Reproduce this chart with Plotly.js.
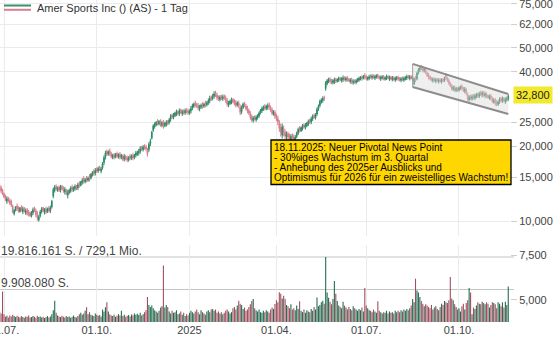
<!DOCTYPE html>
<html>
<head>
<meta charset="utf-8">
<script src="https://cdn.plot.ly/plotly-3.0.1.min.js"></script>
<style>html,body{margin:0;padding:0;background:#fff;}#chart{width:557px;height:340px;}</style>
</head>
<body>
<div id="chart"></div>
<script>
// ---- data (daily, trading days from 2024-06-26 to 2025-11-18) ----
const closes = [
13.6,13.2,12.9,12.5,12.2,12.3,12.0,11.8,11.6,10.9,
11.0,11.4,11.2,11.0,11.3,11.1,11.2,10.9,11.0,10.7,
10.6,10.5,10.8,11.1,11.0,10.6,10.3,10.4,10.9,11.2,
11.0,11.1,10.9,11.2,11.0,11.3,12.0,13.4,13.7,13.5,
13.6,13.3,13.7,13.5,13.2,13.4,12.9,13.0,13.3,13.6,
13.4,13.6,13.8,13.5,14.0,13.9,14.4,14.6,14.5,14.7,
14.6,14.9,14.8,15.4,15.7,15.5,16.0,15.9,16.3,16.1,
16.2,17.0,18.0,18.8,18.6,19.0,18.7,18.2,18.4,18.0,
18.6,18.3,18.5,18.1,18.4,17.7,18.2,17.8,17.6,18.0,
17.9,18.3,18.0,18.4,18.8,18.9,19.1,19.6,19.4,19.9,
19.7,19.5,18.6,20.4,21.0,22.8,24.2,24.6,25.0,24.7,
25.2,24.5,24.9,24.2,24.8,25.0,24.6,25.6,26.4,26.2,
26.8,27.2,27.6,27.0,27.8,27.4,27.6,27.2,27.9,27.5,
27.3,27.8,28.4,29.2,29.6,29.4,29.0,28.6,28.8,29.3,
29.0,29.6,29.4,30.0,30.6,31.2,31.0,32.0,32.6,32.2,
31.4,31.0,31.6,31.2,31.7,31.3,30.6,29.6,29.9,30.4,
30.8,30.2,29.8,29.4,30.0,29.2,27.4,28.6,29.6,29.2,
28.4,27.8,27.2,26.2,25.6,26.0,25.8,26.2,26.6,27.2,
28.0,28.4,28.8,28.5,29.0,29.2,28.8,28.0,27.2,27.6,
26.4,25.8,25.0,23.6,22.8,24.0,22.6,22.0,22.4,21.8,
21.4,22.0,21.6,21.2,21.8,22.6,23.4,23.2,23.8,24.2,
23.9,24.4,24.8,25.2,25.0,25.8,26.4,26.2,26.8,28.2,
29.0,30.4,30.8,31.2,31.0,36.0,36.8,37.2,36.5,36.2,
36.8,37.0,36.6,37.2,37.6,37.0,37.4,37.8,37.2,37.6,
37.1,36.8,37.0,36.4,36.6,36.2,36.8,37.3,37.6,37.9,
37.4,38.4,38.0,37.6,37.8,38.2,38.0,38.4,37.9,38.2,
38.6,38.0,37.6,37.9,38.2,37.5,37.8,38.3,37.6,37.9,
37.4,37.8,37.2,37.6,37.9,37.3,37.0,37.5,37.2,37.6,
37.9,38.2,37.8,38.1,37.6,37.9,37.6,37.0,39.5,40.8,
41.6,41.2,40.6,41.0,39.8,38.6,38.0,37.4,37.0,37.3,
36.8,37.1,36.7,37.0,36.6,37.0,36.8,37.6,37.8,36.8,
36.0,35.0,34.2,34.6,33.8,34.2,33.6,34.4,34.8,34.2,
33.6,34.0,32.8,31.0,31.6,31.2,31.8,31.4,32.0,32.3,
31.8,32.6,32.4,32.8,32.2,32.5,31.8,31.5,31.9,31.2,
30.4,30.8,29.8,29.6,30.2,31.0,30.6,31.2,30.5,30.9,
31.3,32.0
];
const opens = [
13.9,13.6,13.3,12.9,12.6,12.0,12.4,12.1,12.0,11.5,
10.7,11.0,11.5,11.3,10.9,11.4,10.9,11.3,10.8,11.1,
10.9,10.8,10.5,10.8,11.3,11.0,10.7,10.1,10.5,10.9,
11.3,10.8,11.2,10.9,11.3,11.0,11.4,12.6,13.3,13.8,
13.3,13.7,13.3,13.8,13.6,13.1,13.3,12.7,13.0,13.2,
13.7,13.3,13.5,13.8,13.6,14.2,13.9,14.3,14.8,14.4,
14.9,14.6,15.1,14.9,15.3,15.9,15.6,16.2,15.9,16.5,
15.9,16.4,17.2,18.1,19.1,18.6,19.2,18.7,18.0,18.5,
18.1,18.7,18.1,18.6,18.0,18.3,17.8,18.2,18.0,17.6,
18.3,17.9,18.4,18.0,18.4,18.6,18.8,19.1,19.8,19.4,
20.1,19.9,19.3,19.4,20.5,21.6,23.2,24.0,24.4,25.3,
24.6,25.2,24.3,24.9,24.2,24.5,25.2,24.9,25.7,26.7,
26.2,26.6,27.0,27.6,27.1,28.0,27.1,27.8,27.3,28.1,
27.8,27.2,27.8,28.5,29.0,29.9,29.5,29.2,28.3,28.8,
29.5,29.0,29.9,29.4,30.0,30.6,31.5,31.2,31.9,32.9,
32.2,31.6,30.9,31.8,31.1,31.9,31.4,30.6,29.4,29.8,
30.2,30.9,30.4,30.0,29.3,29.9,28.8,27.6,28.7,29.8,
29.1,28.5,27.9,27.1,26.4,25.4,26.3,25.6,26.0,26.5,
27.2,27.8,28.2,29.0,28.4,28.7,29.4,28.8,28.1,27.0,
27.4,26.6,25.9,24.8,23.8,22.2,23.6,22.8,21.8,22.5,
22.0,21.3,22.2,21.8,21.1,21.9,22.6,23.7,23.1,23.6,
24.4,23.8,24.2,24.6,25.5,25.1,25.8,26.7,26.1,27.0,
28.3,29.2,30.2,30.6,31.5,34.2,35.8,36.6,37.3,36.8,
36.1,36.5,37.2,36.6,37.0,37.7,36.8,37.2,37.9,37.0,
37.8,37.3,36.5,37.1,36.1,36.8,36.2,36.7,37.0,37.4,
38.0,37.6,38.6,38.2,37.3,37.6,38.5,37.8,38.5,37.7,
38.0,38.7,38.2,37.4,37.7,38.2,37.3,37.7,38.3,37.4,
38.0,37.2,37.9,37.0,37.4,38.0,37.6,36.9,37.7,37.0,
37.4,37.7,38.4,37.6,38.3,37.4,35.6,37.8,37.4,39.6,
40.6,41.9,41.4,40.4,40.9,39.6,38.8,38.2,37.6,36.8,
37.4,36.6,37.3,36.5,37.2,36.4,37.3,36.9,38.9,37.6,
36.9,36.0,35.0,34.0,34.5,33.6,34.3,33.7,34.2,34.9,
34.3,33.4,33.8,32.4,30.8,31.8,31.1,32.0,31.3,31.8,
32.5,31.9,33.0,32.2,32.9,32.0,32.5,32.0,31.3,31.9,
31.2,30.2,30.7,30.2,29.5,30.2,31.2,30.5,31.2,30.3,
30.7,31.0
];
// daily high-low range in percent (bar length)
const rangePct = [
6,7,6,5,6,7,5,6,7,8,
6,5,7,6,5,6,7,5,6,7,
6,5,6,7,5,8,9,6,7,6,
5,6,7,5,6,7,8,10,7,6,
5,6,7,5,6,7,6,8,5,6,
7,5,6,5,7,6,5,6,7,5,
6,5,7,6,5,6,7,5,6,5,
6,7,9,8,6,5,7,6,5,6,
5,6,5,7,5,6,7,5,6,5,
6,5,7,5,6,5,6,7,5,6,
5,6,8,9,7,8,7,6,5,6,
5,7,6,8,5,6,5,6,7,5,
6,5,6,5,7,5,6,5,6,5,
6,5,7,6,5,6,5,7,6,5,
6,5,6,5,6,7,5,6,7,6,
7,5,6,5,6,5,7,8,6,5,
6,5,6,7,5,7,10,8,6,5,
6,7,6,8,7,6,5,6,5,6,
5,6,5,6,5,6,7,6,7,5,
8,7,9,11,12,14,10,9,8,7,
8,7,6,8,7,6,7,6,5,6,
5,6,5,6,5,7,6,5,6,8,
6,7,5,6,5,9,6,5,6,5,
5,6,5,4,5,4,5,6,4,5,
5,4,5,6,5,4,5,4,5,4,
5,4,6,5,4,5,4,5,4,5,
4,5,4,5,4,5,4,5,4,5,
4,5,4,5,4,5,4,5,4,5,
4,5,4,5,4,5,7,6,8,6,
6,5,6,5,6,5,6,5,4,5,
4,5,4,5,4,5,4,5,6,5,
6,5,6,5,6,5,4,5,4,6,
5,6,7,8,6,5,6,5,6,5,
5,6,5,6,5,6,5,4,5,6,
6,5,7,6,5,6,5,6,5,6,
5,6
];
// volume in millions of shares
const volumes = [
3.2,2.6,9.3,2.4,1.6,1.9,1.4,2.0,1.7,2.2,
1.8,1.5,1.9,1.6,1.4,1.8,1.5,1.3,1.7,1.6,
2.0,1.4,1.5,1.8,1.6,1.3,1.9,1.5,1.7,1.4,
1.6,1.2,1.5,1.8,1.4,1.7,2.4,3.6,6.5,2.8,
2.0,1.7,1.5,1.9,1.6,1.4,1.8,1.5,1.7,1.3,
1.6,2.0,1.5,1.4,1.8,2.4,2.8,2.2,2.6,3.4,
4.5,2.4,3.0,2.2,2.0,1.8,2.6,2.2,1.9,2.1,
1.7,3.8,3.2,4.5,6.0,3.2,2.4,2.0,1.8,2.2,
1.6,1.9,2.4,2.0,3.4,1.8,2.2,1.6,1.9,2.1,
1.7,2.3,2.0,2.6,2.2,2.5,2.1,2.8,2.0,2.4,
3.0,3.6,7.6,5.2,4.6,5.0,4.2,3.6,3.2,2.8,
3.4,4.4,4.8,17.2,4.4,5.2,4.6,3.2,2.6,3.4,
2.8,3.0,3.6,2.4,2.6,3.2,2.2,2.8,1.8,2.4,
2.0,2.8,3.4,3.0,2.6,3.2,3.8,3.0,2.4,3.6,
3.0,2.6,2.2,3.2,3.6,3.0,3.8,4.0,3.4,3.8,
2.8,3.2,2.6,3.0,2.4,2.8,3.4,3.8,3.2,2.6,
3.0,4.2,4.6,3.8,5.0,6.5,5.6,5.2,4.0,4.4,
3.4,3.8,4.6,5.4,6.4,7.0,4.2,3.6,3.2,3.8,
3.0,2.8,3.4,3.0,3.6,3.2,2.8,3.8,4.4,4.0,
5.5,6.6,6.0,9.1,8.6,7.2,8.0,7.0,5.2,4.8,
4.2,5.4,3.8,4.2,3.6,5.0,4.0,6.3,3.4,3.0,
3.8,2.8,3.6,3.2,3.0,4.0,3.4,4.6,3.8,7.5,
4.8,5.2,6.0,6.5,5.6,19.8,9.0,7.4,6.2,5.4,
7.0,12.5,8.6,6.4,5.0,4.6,4.2,6.2,5.0,4.4,
3.8,4.6,4.0,3.6,4.8,4.2,3.8,3.4,4.0,3.6,
4.4,3.2,10.4,5.0,4.2,3.6,3.4,3.0,3.8,3.2,
2.8,6.3,3.4,3.0,2.6,3.0,2.8,3.4,2.6,3.2,
2.8,3.0,2.6,3.4,3.0,3.4,3.0,3.6,3.2,3.8,
3.4,4.0,3.6,4.2,5.0,7.0,6.0,13.2,9.6,9.0,
7.6,6.4,5.6,4.8,5.4,5.0,4.6,4.2,5.2,3.8,
4.4,4.8,4.0,3.6,4.6,5.6,5.2,6.4,6.0,5.8,
6.6,13.7,7.2,6.6,5.4,4.6,3.8,4.2,3.2,4.8,
5.6,3.8,5.8,6.6,10.4,9.0,2.4,4.4,4.0,5.0,
6.0,5.6,5.4,6.2,5.8,5.4,6.0,5.6,4.4,5.2,
6.0,5.8,5.4,4.2,6.0,5.6,4.8,6.0,4.4,6.2,
5.2,10.8
];
const startDate = '2024-06-26';
const holidays = ['2024-07-04','2024-09-02','2024-11-28','2024-12-25','2025-01-01','2025-01-09',
  '2025-01-20','2025-02-17','2025-04-18','2025-05-26','2025-06-19','2025-07-04','2025-09-01'];
const priceTickVals = [10,15,20,25,40,50,62,75];
const priceTickText = ['10,000','15,000','20,000','25,000','40,000','50,000','62,000','75,000'];
const volTickVals = [20.24, 6.71];
const volTickText = ['7,500','5,000'];
const xTickVals = ['2024-07-01','2024-10-01','2025-01-02','2025-04-01','2025-07-01','2025-10-01'];
const xTickText = ['01.07.','01.10.','2025','01.04.','01.07.','01.10.'];
const maxVolume = 19.816161;
const halfVolume = 9.90808;
const lastPrice = 32.2;
const channelX = ['2025-08-15','2025-11-18','2025-11-18','2025-08-15'];
const channelY = [43.0, 32.5, 27.0, 34.7];
const titleText = 'Amer Sports Inc () (AS) - 1 Tag';
const newsLines = ['18.11.2025: Neuer Pivotal News Point',
  '- 30%iges Wachstum im 3. Quartal',
  '- Anhebung des 2025er Ausblicks und',
  'Optimismus für 2026 für ein zweistelliges Wachstum!'];

// ---- trading-day dates ----
const dates = [];
{
  const d = new Date(startDate + 'T00:00:00Z');
  while (dates.length < closes.length) {
    const iso = d.toISOString().slice(0,10);
    const wd = d.getUTCDay();
    if (wd !== 0 && wd !== 6 && holidays.indexOf(iso) < 0) dates.push(iso);
    d.setUTCDate(d.getUTCDate() + 1);
  }
}
const highs = closes.map((c,i)=>{const mid=(c+opens[i])/2; return Math.max(c, opens[i], mid*(1+rangePct[i]/200));});
const lows  = closes.map((c,i)=>{const mid=(c+opens[i])/2; return Math.min(c, opens[i], mid*(1-rangePct[i]/200));});
const volColors = closes.map((c,i)=> c >= opens[i] ? '#246b50' : '#a04d5d');

// ---- layout helpers (pixel -> paper) ----
const PW = 510, PH = 322;
const px = x => x / PW;
const py = y => 1 - y / PH;
const FONT = 'Liberation Sans, Arial, sans-serif';

const traces = [
  {type:'scatter', x:channelX, y:channelY, fill:'toself', fillcolor:'rgba(215,215,215,0.4)',
   mode:'lines', line:{width:0}, xaxis:'x', yaxis:'y', hoverinfo:'skip'},
  {type:'scatter', x:[channelX[0],channelX[1]], y:[channelY[0],channelY[1]], mode:'lines',
   line:{color:'#8c8c8c', width:2}, xaxis:'x', yaxis:'y'},
  {type:'scatter', x:[channelX[3],channelX[2]], y:[channelY[3],channelY[2]], mode:'lines',
   line:{color:'#8c8c8c', width:2}, xaxis:'x', yaxis:'y'},
  {type:'scatter', x:[channelX[0],channelX[3]], y:[channelY[0],channelY[3]], mode:'lines',
   line:{color:'#a0a0a0', width:1}, xaxis:'x', yaxis:'y'},
  {type:'candlestick', x:dates, open:opens, high:highs, low:lows, close:closes,
   increasing:{line:{color:'#2b8a66', width:1}, fillcolor:'#2b8a66'},
   decreasing:{line:{color:'#d57e8c', width:1}, fillcolor:'#d57e8c'},
   whiskerwidth:0, xaxis:'x', yaxis:'y'},
  {type:'bar', x:dates, y:volumes, marker:{color:volColors, line:{width:0}}, xaxis:'x', yaxis:'y2'}
];

const layout = {
  width:557, height:340,
  margin:{l:0, r:47, t:0, b:18},
  paper_bgcolor:'#fff', plot_bgcolor:'#fff',
  showlegend:false,
  font:{family:FONT, size:11, color:'#444'},
  bargap:0.25,
  xaxis:{
    type:'date', anchor:'y2',
    range:['2024-06-26 05:45','2025-11-19 04:48'],
    rangebreaks:[{bounds:['sat','mon']},{values:holidays}],
    tickvals:xTickVals, ticktext:xTickText, ticks:'',
    ticklabeloverflow:'allow',
    showgrid:true, gridcolor:'#ebebeb', gridwidth:1,
    zeroline:false, showline:false,
    tickfont:{size:11, color:'#444'},
    rangeslider:{visible:false}
  },
  yaxis:{
    type:'log', domain:[1-236/PH, 1], anchor:'x', side:'right',
    range:[0.9395, 1.8911],
    tickvals:priceTickVals, ticktext:priceTickText,
    ticklabeloverflow:'allow',
    ticks:'outside', ticklen:6, tickcolor:'#cfcfcf',
    showgrid:true, gridcolor:'#ebebeb', zeroline:false, showline:false,
    tickfont:{size:11, color:'#444'}
  },
  yaxis2:{
    domain:[0, 1-245/PH], anchor:'x', side:'right',
    range:[0, 23.47],
    tickvals:volTickVals, ticktext:volTickText,
    ticks:'outside', ticklen:6, tickcolor:'#cfcfcf',
    showgrid:false, zeroline:false, showline:false,
    tickfont:{size:11, color:'#444'}
  },
  shapes:[
    {type:'line', xref:'paper', x0:0, x1:1, yref:'y', y0:Math.log10(lastPrice), y1:Math.log10(lastPrice),
     line:{color:'#e6e6e6', width:1}, layer:'below'},
    {type:'line', xref:'paper', x0:0, x1:px(514), yref:'y2', y0:maxVolume, y1:maxVolume,
     line:{color:'#c4c4c4', width:1}, layer:'below'},
    {type:'line', xref:'paper', x0:0, x1:px(514), yref:'y2', y0:halfVolume, y1:halfVolume,
     line:{color:'#c4c4c4', width:1}, layer:'below'},
    {type:'line', xref:'paper', yref:'paper', x0:px(4), x1:px(31), y0:py(5.5), y1:py(5.5),
     line:{color:'#3d8f6e', width:2}},
    {type:'line', xref:'paper', yref:'paper', x0:px(4), x1:px(31), y0:py(9.8), y1:py(9.8),
     line:{color:'#d9808e', width:2}},
    {type:'rect', xref:'paper', yref:'paper', x0:px(271), x1:px(511), y0:py(184.5), y1:py(140),
     fillcolor:'#ffd700', line:{color:'#000', width:1.3}, layer:'above'}
  ],
  annotations:[
    {xref:'paper', yref:'paper', x:px(35), y:py(8), xanchor:'left', yanchor:'middle', showarrow:false,
     text:titleText, font:{size:11, color:'#333', family:FONT}},
    {xref:'paper', yref:'paper', x:px(-1), y:py(251), xanchor:'left', yanchor:'middle', showarrow:false,
     text:'19.816.161 S. / 729,1 Mio.', font:{size:12, color:'#444', family:FONT}},
    {xref:'paper', yref:'paper', x:px(-1), y:py(283), xanchor:'left', yanchor:'middle', showarrow:false,
     text:'9.908.080 S.', font:{size:12, color:'#444', family:FONT}},
    {xref:'paper', yref:'y', x:px(513), y:Math.log10(lastPrice), xanchor:'left', yanchor:'middle', showarrow:false,
     text:'32,800', bgcolor:'#f2e82c', borderpad:2, font:{size:11, color:'#222', family:FONT}}
  ].concat(newsLines.map((t,i)=>({
     xref:'paper', yref:'paper', x:px(273), y:py(147.5 + i*10), xanchor:'left', yanchor:'middle', showarrow:false,
     borderpad:0, text:t, font:{size:10, color:'#000', family:FONT}
  })))
};

Plotly.newPlot('chart', traces, layout, {staticPlot:true, displayModeBar:false});
</script>
</body>
</html>
